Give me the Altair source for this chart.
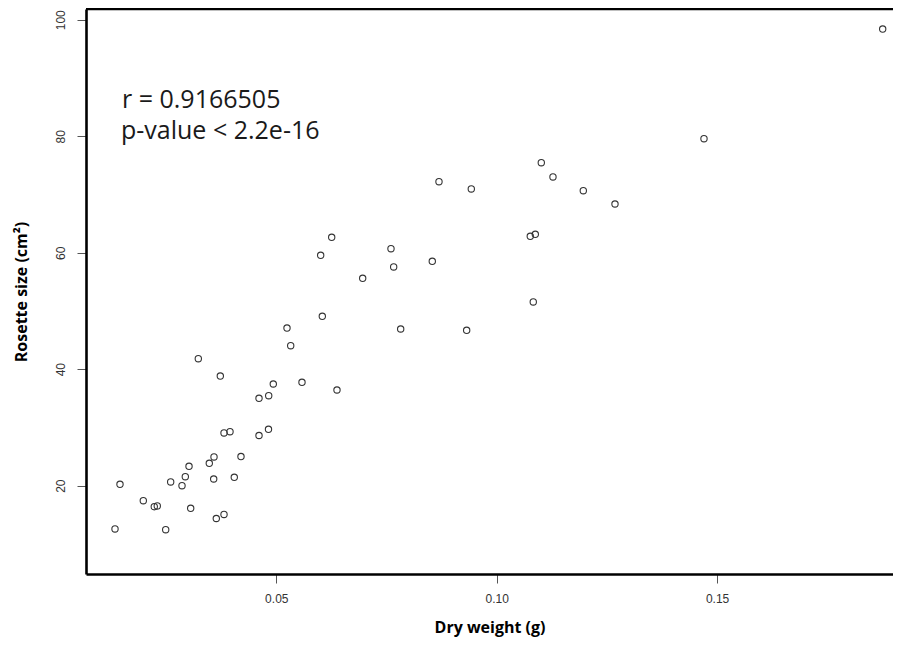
import altair as alt
import pandas as pd

# ---- data ----
dry_weight = [
    0.01341, 0.01454, 0.01983, 0.02232, 0.02300, 0.02491, 0.02604, 0.02861,
    0.02936, 0.03020, 0.03058, 0.03480, 0.03587, 0.03580, 0.03639, 0.03814,
    0.03814, 0.03950, 0.04047, 0.04199, 0.04608, 0.04823,
    0.06044, 0.05243, 0.05327, 0.03231, 0.03730, 0.04932, 0.05583, 0.06377,
    0.04608, 0.04828,
    0.06257, 0.06007, 0.06960, 0.07602, 0.07663, 0.08539, 0.08691, 0.09424,
    0.07822, 0.09319, 0.10830, 0.10762, 0.10876, 0.11012, 0.11277, 0.11965,
    0.12684, 0.14703, 0.18757,
]
rosette_size = [
    12.57, 20.24, 17.42, 16.39, 16.52, 12.45, 20.64, 20.00,
    21.55, 23.33, 16.12, 23.85, 24.93, 21.15, 14.37, 15.06,
    29.05, 29.27, 21.44, 25.01, 28.62, 29.68,
    49.08, 47.07, 44.03, 41.80, 38.83, 37.46, 37.75, 36.43,
    35.00, 35.45,
    62.64, 59.55, 55.61, 60.69, 57.55, 58.52, 72.19, 70.94,
    46.90, 46.68, 51.54, 62.82, 63.16, 75.45, 73.00, 70.64,
    68.36, 79.57, 98.40,
]
x_ticks = [0.05, 0.10, 0.15]
y_ticks = [20, 40, 60, 80, 100]
annotation_r = "r = 0.9166505"
annotation_p = "p-value < 2.2e-16"
x_title = "Dry weight (g)"
y_title = "Rosette size (cm\u00b2)"

X_DOMAIN = [0.00683, 0.18991]
Y_DOMAIN = [4.84, 101.84]
W, H = 807, 565

df = pd.DataFrame({"dry_weight": dry_weight, "rosette_size": rosette_size})

points = alt.Chart(df).mark_point(
    shape="circle", filled=False, size=40, stroke="#333333",
    strokeWidth=1.1, opacity=1,
).encode(
    x=alt.X(
        "dry_weight:Q",
        scale=alt.Scale(domain=X_DOMAIN, nice=False, zero=False),
        axis=alt.Axis(
            values=x_ticks, format=".2f", title=x_title,
            labelPadding=10, titlePadding=15,
        ),
    ),
    y=alt.Y(
        "rosette_size:Q",
        scale=alt.Scale(domain=Y_DOMAIN, nice=False, zero=False),
        axis=alt.Axis(
            values=y_ticks, format="d", title=y_title,
            labelAngle=270, labelAlign="center", labelBaseline="alphabetic",
            labelPadding=13, titleX=-57,
        ),
    ),
)

top_line = alt.Chart(pd.DataFrame({"k": [0]})).mark_rule(
    color="black", strokeWidth=2.6
).encode(x=alt.value(0), x2=alt.value(W), y=alt.value(0))

text_style = dict(align="left", baseline="alphabetic", font="Open Sans",
                  fontSize=25, color="#1a1a1a")

annot_r = alt.Chart(pd.DataFrame({"k": [0]})).mark_text(
    text=annotation_r, **text_style
).encode(x=alt.value(36), y=alt.value(99))

annot_p = alt.Chart(pd.DataFrame({"k": [0]})).mark_text(
    text=annotation_p, **text_style
).encode(x=alt.value(35), y=alt.value(130))

chart = alt.layer(points, top_line, annot_r, annot_p).properties(
    width=W, height=H,
    autosize=alt.AutoSizeParams(type="none"),
    padding={"left": 78, "top": 1, "right": 0, "bottom": 67},
).configure_view(stroke=None).configure_axis(
    grid=False,
    domainColor="black", domainWidth=2.6,
    tickColor="#555555", tickWidth=1, tickSize=9,
    labelFont="Liberation Sans", labelFontSize=12, labelColor="#333333",
    titleFont="Open Sans", titleFontWeight="bold", titleFontSize=16,
    titleColor="black",
)

chart.save("out.html", embed_options={"renderer": "svg", "actions": False})
